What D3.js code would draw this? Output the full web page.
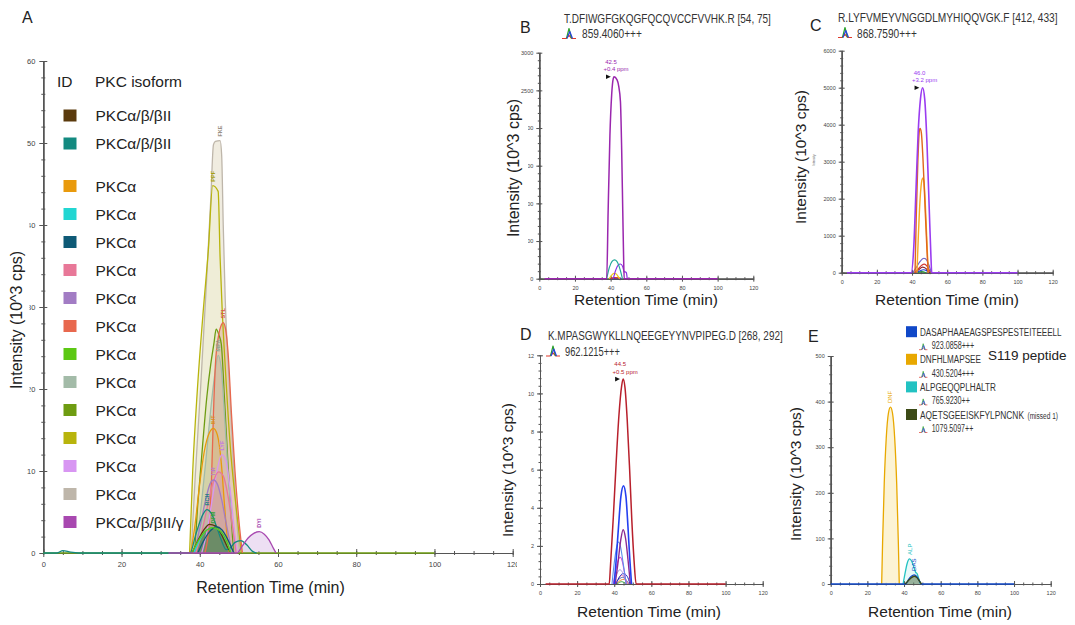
<!DOCTYPE html>
<html><head><meta charset="utf-8">
<script src="https://cdn.jsdelivr.net/npm/d3@7/dist/d3.min.js"></script>
<style>
html,body{margin:0;padding:0;background:#fff;}
svg{display:block;}
</style></head>
<body>
<svg id="chart" width="1075" height="625"></svg>
<script>
// ================= DATA =================
const timeTicks = [0, 20, 40, 60, 80, 100, 120];
const aIntensityTicks = [0, 10, 20, 30, 40, 50, 60];
const bIntensityTicks = [0, 500, 1000, 1500, 2000, 2500, 3000];
const cIntensityTicks = [0, 1000, 2000, 3000, 4000, 5000, 6000];
const dIntensityTicks = [0, 2, 4, 6, 8, 10, 12];
const eIntensityTicks = [0, 100, 200, 300, 400, 500];

const axisTitleX = "Retention Time (min)";
const axisTitleY = "Intensity (10^3 cps)";
const panelLetters = ["A", "B", "C", "D", "E"];

// ---- Panel A : XIC overlay of PKC peptides ----
const aLegendHeader = ["ID", "PKC isoform"];
const aIsoforms = ["PKCα/β/βII", "PKCα/β/βII", "PKCα", "PKCα", "PKCα", "PKCα", "PKCα", "PKCα",
  "PKCα", "PKCα", "PKCα", "PKCα", "PKCα", "PKCα", "PKCα/β/βII/γ"];
const aPeakIds = ["", "RCH", "IHT", "", "", "", "TIR", "STL", "DFM", "MPA", "", "PPF", "LYF", "FKE", "DYI"];
const aTrace01 = [[38,0],[39.5,1.5],[41,2.8],[42.5,3.5],[44,3.3],[45.5,2.3],[47,0.8],[48,0]];
const aTrace02 = [[0,0],[3.5,0],[5,0.3],[7,0.1],[9,0],[37.5,0],[39,2.3],[40.5,4.4],[41.8,5.3],[43,4.8],[44.3,3.2],[45.5,1.6],[46.8,0.4],[47.8,0.6],[49,1.3],[50.5,1.5],[52,1],[53.5,0.2],[54.5,0]];
const aTrace03 = [[37.7,0],[38.8,3.5],[40,8.5],[41.2,12.5],[42.4,14.6],[43.5,15.2],[44.5,14.4],[45.5,11],[46.3,6],[47,2],[47.6,0]];
const aTrace04 = [[38.5,0],[40,1.6],[41.8,2.8],[43.5,3.1],[45.2,2.7],[46.8,1.5],[48,0]];
const aTrace05 = [[39.5,0],[41,1.5],[42.7,2.7],[44.2,3.2],[45.7,2.8],[47.2,1.6],[48.7,0]];
const aTrace06 = [[39,0],[40.5,2.5],[42,5.8],[43.4,8.6],[44.8,9.9],[46,9.4],[47.2,7],[48.3,3.5],[49.3,0]];
const aTrace07 = [[38.5,0],[40,3],[41.5,6.5],[42.6,8.4],[43.5,8.9],[44.5,8.4],[45.6,6.5],[46.8,3.5],[48,0.8],[48.6,0]];
const aTrace08 = [[41.3,0],[42.3,3],[43,9],[43.5,17],[44,23],[44.8,26.5],[45.5,27.8],[46,28.1],[46.6,27.3],[47.3,24],[48.1,17],[49,10],[50,4],[50.9,0]];
const aTrace09 = [[38,0],[39.5,1.4],[41.3,2.6],[43.3,3.1],[45.2,2.7],[46.8,1.5],[48,0]];
const aTrace10 = [[39,0],[40.2,5],[41.5,11],[42.8,17.5],[43.9,22],[44.7,24.1],[45.5,22.5],[46.3,17],[47.2,10],[48.2,4],[49.2,0]];
const aTrace11 = [[0,0],[38.5,0],[39.5,6],[40.7,13],[41.8,19],[42.8,23],[43.6,25.5],[44.2,27.3],[44.9,26.6],[45.5,25.5],[46.3,19],[47.2,11],[48.1,4],[48.8,0],[100,0]];
const aTrace12 = [[37.4,0],[38.2,10],[39.4,20],[40.8,29],[42.2,37],[43.3,44.8],[44.7,44.1],[45.2,36],[45.7,30],[46.6,22],[47.8,13],[49.2,6],[50.6,0]];
const aTrace13 = [[40.5,0],[41.8,2.5],[43,6],[44.4,10],[45.6,12],[46.7,11.2],[47.7,8],[48.7,3.5],[49.6,0]];
const aTrace14 = [[37.8,0],[38.8,9],[40.2,20],[41.6,32],[42.8,43],[43.5,49.8],[44,50.2],[45.2,50.3],[45.6,48.5],[46,40],[46.5,31],[47.5,21],[48.6,11],[49.6,3],[50.2,0]];
const aTrace15 = [[32,0],[49.5,0],[50.8,0.8],[52.3,1.8],[53.8,2.4],[55.2,2.6],[56.5,2.3],[57.7,1.6],[58.8,0.6],[59.5,0]];
const aTraces = [aTrace01, aTrace02, aTrace03, aTrace04, aTrace05, aTrace06, aTrace07, aTrace08,
  aTrace09, aTrace10, aTrace11, aTrace12, aTrace13, aTrace14, aTrace15];

// ---- Panel B ----
const bPeptide = "T.DFIWGFGKQGFQCQVCCFVVHK.R [54, 75]";
const bPrecursor = "859.4060+++";
const bApex = ["42.5", "+0.4 ppm"];
const bTrace01 = [[3,0],[37.8,0],[38.6,900],[39.6,1900],[40.6,2450],[41.5,2660],[41.9,2680],[43.6,2640],[44.5,2560],[45.5,2350],[46.2,1700],[46.8,900],[47.3,250],[47.6,0],[100,0]];
const bTrace02 = [[37.8,0],[39.3,150],[40.8,230],[42.2,250],[43.5,230],[44.8,160],[46,60],[46.6,0]];
const bTrace03 = [[41.5,0],[42.8,110],[44.2,180],[45.5,195],[46.8,160],[47.6,90],[48.2,90],[48.8,80],[49.3,0]];
const bTrace04 = [[39.2,0],[40.5,45],[41.8,72],[43,65],[44.2,30],[45,0]];
const bTrace05 = [[40,0],[42,15],[44,10],[45.5,0]];
const bTrace06 = [[40,0],[43,8],[46,0]];
const bTraces = [bTrace01, bTrace02, bTrace03, bTrace04, bTrace05, bTrace06];

// ---- Panel C ----
const cPeptide = "R.LYFVMEYVNGGDLMYHIQQVGK.F [412, 433]";
const cPrecursor = "868.7590+++";
const cApex = ["46.0", "+3.2 ppm"];
const cTrace01 = [[3,0],[39.5,0],[41,700],[42.3,2300],[43.5,3800],[44.8,4700],[46,5000],[47.2,4700],[48.5,3500],[49.8,1700],[50.7,500],[51.2,0],[100,0]];
const cTrace02 = [[41.7,0],[42.4,1500],[43.3,3000],[44.2,3850],[44.6,3900],[45.3,3780],[46.2,3100],[47.3,1900],[48.5,600],[49.2,0]];
const cTrace03 = [[42.8,0],[43.6,1000],[44.6,2000],[45.6,2500],[46.2,2560],[46.8,2450],[47.6,1800],[48.5,800],[49.2,0]];
const cTrace04 = [[40.5,0],[42.5,150],[44.5,300],[46.8,390],[48.5,330],[50,150],[51,0]];
const cTrace05 = [[41.5,0],[43.5,100],[45.5,200],[47,230],[48.5,180],[50,60],[50.7,0]];
const cTrace06 = [[42,0],[44,90],[46,150],[48,110],[49.5,30],[50,0]];
const cTrace07 = [[42,0],[44,40],[46.5,80],[48.5,50],[50,0]];
const cTrace08 = [[43,0],[45.5,30],[48,0]];
const cTraces = [cTrace01, cTrace02, cTrace03, cTrace04, cTrace05, cTrace06, cTrace07, cTrace08];

// ---- Panel D ----
const dPeptide = "K.MPASGWYKLLNQEEGEYYNVPIPEG.D [268, 292]";
const dPrecursor = "962.1215+++";
const dApex = ["44.5", "+0.5 ppm"];
const dTrace01 = [[3,0],[37.3,0],[38,1.0],[39.5,3.5],[41,6.3],[42.5,8.8],[44,10.4],[44.8,10.75],[45.8,10.3],[47,8.6],[48.3,6],[49.5,3.3],[50.7,1.2],[51.8,0],[100,0]];
const dTrace02 = [[40,0],[41,1.2],[42.3,3],[43.6,4.6],[45,5.15],[46.3,4.6],[47.4,3],[48.4,1.3],[49.3,0]];
const dTrace03 = [[40.5,0],[42,1.1],[43.5,2.3],[44.8,2.85],[46.1,2.4],[47.4,1.3],[48.7,0]];
const dTrace04 = [[38.8,0],[40,1.1],[41.2,1.9],[42.2,2.2],[43.3,2],[44.5,1.3],[45.7,0.5],[46.5,0]];
const dTrace05 = [[39.5,0],[41,0.8],[42.3,1.3],[43.2,1.4],[44.3,1.2],[45.5,0.6],[46.5,0]];
const dTrace06 = [[39.5,0],[41.5,0.55],[43,0.75],[44.5,0.6],[46.5,0]];
const dTrace07 = [[41,0],[43,0.4],[45,0.55],[47,0.4],[48.5,0]];
const dTrace08 = [[40.5,0],[42.5,0.3],[44,0.45],[45.5,0.35],[47.5,0]];
const dTrace09 = [[40,0],[42.5,0.25],[44.5,0.35],[46.5,0.2],[48,0]];
const dTrace10 = [[41,0],[43.5,0.2],[45.5,0.25],[47.5,0]];
const dTrace11 = [[41.5,0],[44,0.12],[46.5,0]];
const dTraces = [dTrace01, dTrace02, dTrace03, dTrace04, dTrace05, dTrace06, dTrace07, dTrace08, dTrace09, dTrace10, dTrace11];

// ---- Panel E ----
const ePeptides = ["DASAPHAAEAGSPESPESTEITEEELL", "DNFHLMAPSEE", "ALPGEQQPLHALTR", "AQETSGEEISKFYLPNCNK"];
const eNotes = ["", "", "", "(missed 1)"];
const ePrecursors = ["923.0858+++", "430.5204+++", "765.9230++", "1079.5097++"];
const ePeakIds = ["DAS", "DNF", "ALP", ""];
const eSideNote = "S119 peptide";
const eTrace01 = [[0,0],[41,0],[42.5,10],[44,17],[45.5,20],[47,16],[48.5,6],[49.5,0],[100,0]];
const eTrace02 = [[27.8,0],[28.3,90],[29.2,220],[30.3,320],[31.5,375],[32.6,388],[33.7,375],[34.9,320],[36,220],[36.9,90],[37.4,0]];
const eTrace03 = [[39.5,0],[40.5,22],[41.7,45],[43,55],[44.2,50],[45.3,38],[46.3,26],[47.2,22],[48,12],[49,0]];
const eTrace04 = [[40.5,0],[42,6],[43.5,12],[45.5,17],[47,14],[48.5,6],[49.5,0]];
const eTraces = [eTrace01, eTrace02, eTrace03, eTrace04];

// ================= STYLES =================
const FONT = "'Liberation Sans', Arial, Helvetica, sans-serif";
const aColors = ["#5a3a0c", "#138a80", "#e99a0c", "#22d6d2", "#0e5a76", "#e87898", "#a27cc4", "#e8684e",
  "#5cc814", "#a3bba8", "#6e9c12", "#b8b40c", "#d896f2", "#beb6aa", "#a848b0"];
const aFillColors = ["#5a3a0c", "#138a80", "#e99a0c", "#22d6d2", "#0e5a76", "#e87898", "#a27cc4", "#d9a58a",
  "#5f8a60", "#a3bba8", "#6e9c12", "#eeeed0", "#d896f2", "#ebe5d6", "#d8b8e4"];
const aFillOpacity = [0.1, 0.08, 0.12, 0.05, 0.05, 0.15, 0.12, 0.45, 0.85, 0.3, 0.06, 0.6, 0.12, 0.75, 0.45];
const aFillOrder = [13, 11, 10, 9, 7, 2, 12, 5, 6, 1, 0, 14, 8];
const aLineOrder = [13, 11, 10, 9, 7, 2, 12, 5, 6, 1, 0, 3, 4, 8, 14];
const aLabelColors = ["", "#1b7f86", "#d8901a", "", "", "", "#b87cc8", "#d8504a", "#3aa23a", "#8aa28e", "", "#a8a010", "#c47ae0", "#9a9286", "#a848b0"];
const bColors = ["#9a26ae", "#22a89a", "#8a2ee6", "#f0cc10", "#e03020", "#2040e0"];
const cColors = ["#9a3cf0", "#e0661c", "#f7a820", "#6f62c8", "#d43a32", "#8a1f2a", "#1d3fd6", "#2a9a3a"];
const dColors = ["#b8202c", "#2440f0", "#8c2a92", "#5b8fea", "#d848d8", "#a898e0", "#1428c0", "#f07ca8", "#5060a0", "#f08030", "#30a040"];
const eColors = ["#1048c8", "#e8a800", "#22c2c2", "#3c4a16"];
const eFillColors = ["#1048c8", "#fbf1cc", "#22c2c2", "#7c8a3c"];
const eFillOpacity = [0.1, 0.85, 0.1, 0.55];

// ================= DRAW =================
const svg = d3.select("#chart").attr("font-family", FONT);
const defs = svg.append("defs");
defs.append("clipPath").attr("id", "clipA").append("rect").attr("x", 0).attr("y", 0).attr("width", 517).attr("height", 625);

function mkLine(x, y) { return d3.line().x(d => x(d[0])).y(d => y(d[1])).curve(d3.curveMonotoneX); }
function mkArea(x, y) { return d3.area().x(d => x(d[0])).y0(y(0)).y1(d => y(d[1])).curve(d3.curveMonotoneX); }
function apex(tr) { return d3.greatest(tr, d => d[1]); }

function axes(g, x, y, o) {
  const ax = g.append("g").attr("color", "#555");
  const xg = ax.append("g").attr("transform", `translate(0,${y(0)})`);
  const minorX = d3.range(0, 120.001, 5);
  xg.append("g").call(d3.axisBottom(x).tickValues(minorX).tickSize(o.minorLen).tickSizeOuter(0).tickFormat(""));
  xg.append("g").call(d3.axisBottom(x).tickValues(minorX).tickSize(-o.minorLen).tickSizeOuter(0).tickFormat(""));
  xg.append("g").call(d3.axisBottom(x).tickValues(timeTicks).tickSize(-o.majorLen).tickSizeOuter(0).tickFormat(""));
  const xm = xg.append("g").call(d3.axisBottom(x).tickValues(timeTicks).tickSize(o.majorLen).tickPadding(o.xPad).tickSizeOuter(0));
  xm.attr("font-size", o.xfs).attr("font-family", FONT);
  xm.selectAll("text").attr("fill", "#444");

  const yg = ax.append("g").attr("transform", `translate(${x(0)},0)`);
  const minorY = d3.range(0, o.yMax * 1.0001, o.yMinor);
  yg.append("g").call(d3.axisLeft(y).tickValues(minorY).tickSize(o.minorLen).tickSizeOuter(0).tickFormat(""));
  yg.append("g").call(d3.axisLeft(y).tickValues(minorY).tickSize(-o.minorLen).tickSizeOuter(0).tickFormat(""));
  yg.append("g").call(d3.axisLeft(y).tickValues(o.yTicks).tickSize(-o.majorLen).tickSizeOuter(0).tickFormat(""));
  const ym = yg.append("g").call(d3.axisLeft(y).tickValues(o.yTicks).tickSize(o.majorLen).tickPadding(o.yPad).tickSizeOuter(0).tickFormat(d3.format("d")));
  ym.attr("font-size", o.yfs).attr("font-family", FONT);
  ym.selectAll("text").attr("fill", "#444");
}

function yTitle(g, cx, cy, fs, mask) {
  if (mask) g.append("rect").attr("x", mask[0]).attr("y", mask[1]).attr("width", mask[2]).attr("height", mask[3]).attr("fill", "#fff");
  g.append("text").attr("transform", `translate(${cx},${cy}) rotate(-90)`)
    .attr("text-anchor", "middle").attr("font-size", fs).attr("fill", "#222").text(axisTitleY);
}
function xTitle(g, cx, by, fs) {
  g.append("text").attr("x", cx).attr("y", by).attr("text-anchor", "middle").attr("font-size", fs).attr("fill", "#222").text(axisTitleX);
}
function icon(g, x0, yb, s) {
  const ig = g.append("g").attr("transform", `translate(${x0},${yb}) scale(${s})`).attr("fill", "none").attr("stroke-width", 1.2).attr("stroke-linejoin", "round");
  ig.append("path").attr("d", "M0,0 L4,0 L7,-3 L10,0 L14,0").attr("stroke", "#e03a2a");
  ig.append("path").attr("d", "M4.5,0 L7,-10 L9.5,0").attr("stroke", "#2aa02a");
  ig.append("path").attr("d", "M5,0 L7.8,-7 L10.5,0").attr("stroke", "#2a40e0");
}
// text squeezed horizontally to the width it has in the figure
function label(g, txt, x, y, fs, w, col) {
  const gg = g.append("g");
  const t = gg.append("text").attr("x", 0).attr("y", 0).attr("font-size", fs).attr("fill", col || "#333").text(txt);
  const nat = t.node().getComputedTextLength();
  const sx = w && nat ? w / nat : 1;
  gg.attr("transform", `translate(${x},${y}) scale(${sx},1)`);
  return t;
}
function apexNote(g, x, y, tr, note, col) {
  const a = apex(tr);
  const px = x(a[0]), py = y(a[1]);
  g.append("text").attr("x", px - 3).attr("y", py - 13).attr("text-anchor", "middle").attr("font-size", 6).attr("fill", col).text(note[0]);
  g.append("text").attr("x", px + 2).attr("y", py - 5.5).attr("text-anchor", "middle").attr("font-size", 6).attr("fill", col).text(note[1]);
  g.append("path").attr("d", `M${px - 8},${py - 2.3} L${px - 3.2},${py} L${px - 8},${py + 2.3} Z`).attr("fill", "#111");
}
function traces(g, x, y, trs, cols, widths) {
  const ln = mkLine(x, y);
  trs.forEach((tr, i) => {
    g.append("path").attr("d", ln(tr)).attr("fill", "none").attr("stroke", cols[i]).attr("stroke-width", widths ? widths[i] : 1.2);
  });
}

// ---------- Panel A ----------
(function () {
  const g = svg.append("g").attr("clip-path", "url(#clipA)");
  const x = d3.scaleLinear().domain([0, 120]).range([43.3, 512.7]);
  const y = d3.scaleLinear().domain([0, 60]).range([553, 61]);
  axes(g, x, y, { yMax: 60, yMinor: 2, yTicks: aIntensityTicks, majorLen: 4, minorLen: 2, xPad: 5, yPad: 4, xfs: 7.5, yfs: 7.5 });
  const ar = mkArea(x, y), ln = mkLine(x, y);
  aFillOrder.forEach(i => {
    g.append("path").attr("d", ar(aTraces[i])).attr("fill", aFillColors[i]).attr("fill-opacity", aFillOpacity[i]);
  });
  aLineOrder.forEach(i => {
    g.append("path").attr("d", ln(aTraces[i])).attr("fill", "none").attr("stroke", aColors[i]).attr("stroke-width", 1.3);
  });
  aTraces.forEach((tr, i) => {
    if (!aPeakIds[i]) return;
    const a = apex(tr);
    g.append("text").attr("transform", `translate(${x(a[0]) + 2},${y(a[1]) - 4}) rotate(-90)`)
      .attr("font-size", 5.5).attr("font-weight", "bold").attr("fill", aLabelColors[i]).text(aPeakIds[i]);
  });
  // legend
  g.append("text").attr("x", 57).attr("y", 87).attr("font-size", 15.5).attr("fill", "#222").text(aLegendHeader[0]);
  g.append("text").attr("x", 95).attr("y", 87).attr("font-size", 15.5).attr("fill", "#222").text(aLegendHeader[1]);
  aIsoforms.forEach((iso, i) => {
    const cy = 115.5 + i * 28 + (i >= 2 ? 14.5 : 0);
    g.append("rect").attr("x", 63.5).attr("y", cy - 6).attr("width", 13).attr("height", 12).attr("fill", aColors[i]);
    g.append("text").attr("x", 95.5).attr("y", cy + 5.5).attr("font-size", 15.5).attr("fill", "#222").text(iso);
  });
  yTitle(g, 21.5, 320, 16, [0, 212, 29.5, 186]);
  xTitle(g, 270.5, 592.5, 16);
  g.append("text").attr("x", 22).attr("y", 23).attr("font-size", 16).attr("fill", "#222").text(panelLetters[0]);
})();

// ---------- Panel B ----------
(function () {
  const g = svg.append("g");
  const x = d3.scaleLinear().domain([0, 120]).range([539.3, 753.3]);
  const y = d3.scaleLinear().domain([0, 3000]).range([278.7, 52.7]);
  axes(g, x, y, { yMax: 3000, yMinor: 100, yTicks: bIntensityTicks, majorLen: 3, minorLen: 1.5, xPad: 4.5, yPad: 3, xfs: 5.5, yfs: 5.5 });
  traces(g, x, y, bTraces.slice().reverse(), bColors.slice().reverse(), [1.2, 1.2, 1.2, 1.2, 1.2, 1.5]);
  apexNote(g, x, y, bTrace01, bApex, bColors[0]);
  yTitle(g, 519, 168, 16, [503, 100, 25, 148]);
  xTitle(g, 646, 305, 15.5);
  g.append("text").attr("x", 520).attr("y", 33).attr("font-size", 16).attr("fill", "#222").text(panelLetters[1]);
  label(g, bPeptide, 564, 23, 12, 207, "#333");
  icon(g, 562, 38.5, 1);
  label(g, bPrecursor, 582, 38, 12, 60, "#333");
})();

// ---------- Panel C ----------
(function () {
  const g = svg.append("g");
  const x = d3.scaleLinear().domain([0, 120]).range([841.7, 1052.7]);
  const y = d3.scaleLinear().domain([0, 6000]).range([272.7, 50.7]);
  axes(g, x, y, { yMax: 6000, yMinor: 200, yTicks: cIntensityTicks, majorLen: 3, minorLen: 1.5, xPad: 4.5, yPad: 3, xfs: 5.5, yfs: 5.5 });
  traces(g, x, y, cTraces.slice().reverse(), cColors.slice().reverse(), [1.2, 1.2, 1.2, 1.2, 1.2, 1.4, 1.4, 1.6]);
  apexNote(g, x, y, cTrace01, cApex, cColors[0]);
  g.append("text").attr("transform", "translate(815,160) rotate(-90)").attr("text-anchor", "middle").attr("font-size", 3).attr("fill", "#555").text("Intensity");
  yTitle(g, 806, 157, 15.5, null);
  xTitle(g, 947, 305, 15.5);
  g.append("text").attr("x", 810).attr("y", 31).attr("font-size", 16).attr("fill", "#222").text(panelLetters[2]);
  label(g, cPeptide, 838, 22, 12, 220, "#333");
  icon(g, 838, 37.5, 1);
  label(g, cPrecursor, 857, 38, 12, 60, "#333");
})();

// ---------- Panel D ----------
(function () {
  const g = svg.append("g");
  const x = d3.scaleLinear().domain([0, 120]).range([540, 762.7]);
  const y = d3.scaleLinear().domain([0, 12]).range([584, 355.3]);
  axes(g, x, y, { yMax: 12, yMinor: 0.4, yTicks: dIntensityTicks, majorLen: 3, minorLen: 1.5, xPad: 4.5, yPad: 3, xfs: 5.5, yfs: 5.5 });
  traces(g, x, y, dTraces.slice().reverse(), dColors.slice().reverse(), [1, 1, 1, 1, 1, 1, 1.1, 1.1, 1.4, 1.6, 1.5]);
  apexNote(g, x, y, dTrace01, dApex, dColors[0]);
  yTitle(g, 513, 470, 15.5, null);
  xTitle(g, 649, 617, 15.5);
  g.append("text").attr("x", 520).attr("y", 340).attr("font-size", 16).attr("fill", "#222").text(panelLetters[3]);
  label(g, dPeptide, 548, 339.5, 12, 235, "#333");
  icon(g, 546, 356, 1);
  label(g, dPrecursor, 565, 355.5, 12, 55, "#333");
})();

// ---------- Panel E ----------
(function () {
  const g = svg.append("g");
  const x = d3.scaleLinear().domain([0, 120]).range([830.7, 1050.7]);
  const y = d3.scaleLinear().domain([0, 500]).range([584, 356]);
  axes(g, x, y, { yMax: 500, yMinor: 20, yTicks: eIntensityTicks, majorLen: 3, minorLen: 1.5, xPad: 4.5, yPad: 3, xfs: 5.5, yfs: 5.5 });
  const ar = mkArea(x, y), ln = mkLine(x, y);
  [1, 3, 2, 0].forEach(i => g.append("path").attr("d", ar(eTraces[i])).attr("fill", eFillColors[i]).attr("fill-opacity", eFillOpacity[i]));
  [1, 2, 0, 3].forEach(i => g.append("path").attr("d", ln(eTraces[i])).attr("fill", "none").attr("stroke", eColors[i]).attr("stroke-width", 1.3));
  eTraces.forEach((tr, i) => {
    if (!ePeakIds[i]) return;
    const a = apex(tr);
    g.append("text").attr("transform", `translate(${x(a[0]) + 2},${y(a[1]) - 4}) rotate(-90)`)
      .attr("font-size", 6).attr("fill", eColors[i]).text(ePeakIds[i]);
  });
  // legend
  const lw = [141.7, 61, 76, 104], pw = [42.6, 42.6, 38.3, 41.6];
  ePeptides.forEach((p, i) => {
    const cy = 331.7 + i * 27.6;
    g.append("rect").attr("x", 906).attr("y", cy - 5.5).attr("width", 11).attr("height", 11).attr("fill", eColors[i]);
    label(g, p, 920, cy + 4, 11.5, lw[i], "#333");
    if (eNotes[i]) label(g, eNotes[i], 1027.5, cy + 4, 9, 30.5, "#333");
    icon(g, 919, cy + 18, 0.6);
    label(g, ePrecursors[i], 931.7, cy + 17.5, 10.5, pw[i], "#333");
  });
  g.append("text").attr("x", 988).attr("y", 360).attr("font-size", 13.5).attr("fill", "#222").text(eSideNote);
  yTitle(g, 801, 474, 15.5, null);
  xTitle(g, 940, 617, 15.5);
  g.append("text").attr("x", 808).attr("y", 342).attr("font-size", 16).attr("fill", "#222").text(panelLetters[4]);
})();
</script>
</body></html>
